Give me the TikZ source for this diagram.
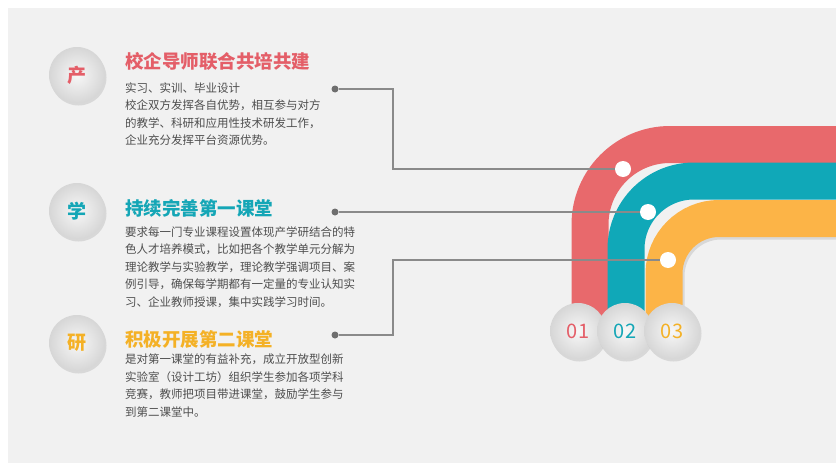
\documentclass[tikz,border=0pt]{standalone}
\usepackage{fontspec}
\newfontfamily\cjk{Noto Sans CJK SC}
\usetikzlibrary{shadows}
\definecolor{cred}{HTML}{E8696C}
\definecolor{cteal}{HTML}{10A8B8}
\definecolor{corange}{HTML}{FCB447}
\definecolor{tred}{HTML}{E45E68}
\definecolor{tteal}{HTML}{14A6B6}
\definecolor{torange}{HTML}{F4B126}
\definecolor{bodygray}{HTML}{4E4E4E}
\definecolor{linegray}{HTML}{8A8A8A}
\definecolor{dotgray}{HTML}{6E6E6E}
\definecolor{bgc}{HTML}{F1F1F1}
\pgfdeclarelayer{back}
\pgfsetlayers{back,main}
\begin{document}
\begin{tikzpicture}[x=1pt,y=-1pt,
  band/.style={line width=37pt},
  bandshadow/.style={line width=37pt, draw=black, opacity=0.10},
  lcirc/.style={circle, minimum size=56pt, inner sep=0pt,
    inner color=white!97!black, outer color=black!16,
    drop shadow={opacity=0.22, shadow xshift=1.5pt, shadow yshift=-2.5pt},
    font=\cjk\bfseries\fontsize{19}{19}\selectfont},
  ncirc/.style={lcirc, font=\cjk\fontsize{20}{20}\selectfont},
  title/.style={anchor=west, inner sep=0pt, font=\cjk\bfseries\fontsize{18.5}{20}\selectfont},
  body/.style={anchor=west, inner sep=0pt, align=left, text=bodygray,
    font=\cjk\fontsize{11.5}{17.5}\selectfont},
  darkdot/.style={circle, fill=dotgray, minimum size=7pt, inner sep=0pt},
  wdot/.style={circle, fill=white, minimum size=16pt, inner sep=0pt},
  conn/.style={draw=linegray, line width=1.1pt}]
\useasboundingbox (0,0) rectangle (836,463);
\begin{pgfonlayer}{back}
\fill[white] (0,0) rectangle (836,463);
\fill[bgc] (8,8) rectangle (836,463);
\draw[band, draw=cred, rounded corners=80pt] (590,322) -- (590,144.5) -- (836,144.5);
\draw[band, draw=cteal, rounded corners=68pt] (626,322) -- (626,181) -- (836,181);
\draw[bandshadow, rounded corners=55pt] (666,322) -- (666,221) -- (836,221);
\draw[band, draw=corange, rounded corners=55pt] (664,322) -- (664,218.5) -- (836,218.5);
\end{pgfonlayer}

% left circles
\node[lcirc, text=tred] (c1) at (77,75) {产};
\node[lcirc, text=tteal] (c2) at (77,211) {学};
\node[lcirc, text=torange] (c3) at (77,343) {研};

% titles
\node[title, text=tred] (h1) at (125,61.7) {校企导师联合共培共建};
\node[title, text=tteal] (h2) at (125,208) {持续完善第一课堂};
\node[title, text=torange] (h3) at (125,339) {积极开展第二课堂};

% bodies
\node[body] (b1) at (125,114.3) {实习、实训、毕业设计\\校企双方发挥各自优势，相互参与对方\\的教学、科研和应用性技术研发工作，\\企业充分发挥平台资源优势。};
\node[body] (b2) at (125,267.2) {要求每一门专业课程设置体现产学研结合的特\\色人才培养模式，比如把各个教学单元分解为\\理论教学与实验教学，理论教学强调项目、案\\例引导，确保每学期都有一定量的专业认知实\\习、企业教师授课，集中实践学习时间。};
\node[body] (b3) at (125,385.4) {是对第一课堂的有益补充，成立开放型创新\\实验室（设计工坊）组织学生参加各项学科\\竞赛，教师把项目带进课堂，鼓励学生参与\\到第二课堂中。};

% connector dots
\node[darkdot] (d1) at (335,89) {};
\node[darkdot] (d2) at (335,212) {};
\node[darkdot] (d3) at (335,335) {};
\node[wdot] (w1) at (623,169) {};
\node[wdot] (w2) at (648,212) {};
\node[wdot] (w3) at (668,260) {};
\coordinate (k1) at (393,169);
\coordinate (k3) at (393,260);
\draw[conn] (d1) -| (k1) -- (w1);
\draw[conn] (d2) -- (w2);
\draw[conn] (d3) -| (k3) -- (w3);

% number circles
\node[ncirc, text=tred] (n1) at (578,331) {01};
\node[ncirc, text=tteal] (n2) at (625,331) {02};
\node[ncirc, text=torange] (n3) at (672,331) {03};
\end{tikzpicture}
\end{document}
